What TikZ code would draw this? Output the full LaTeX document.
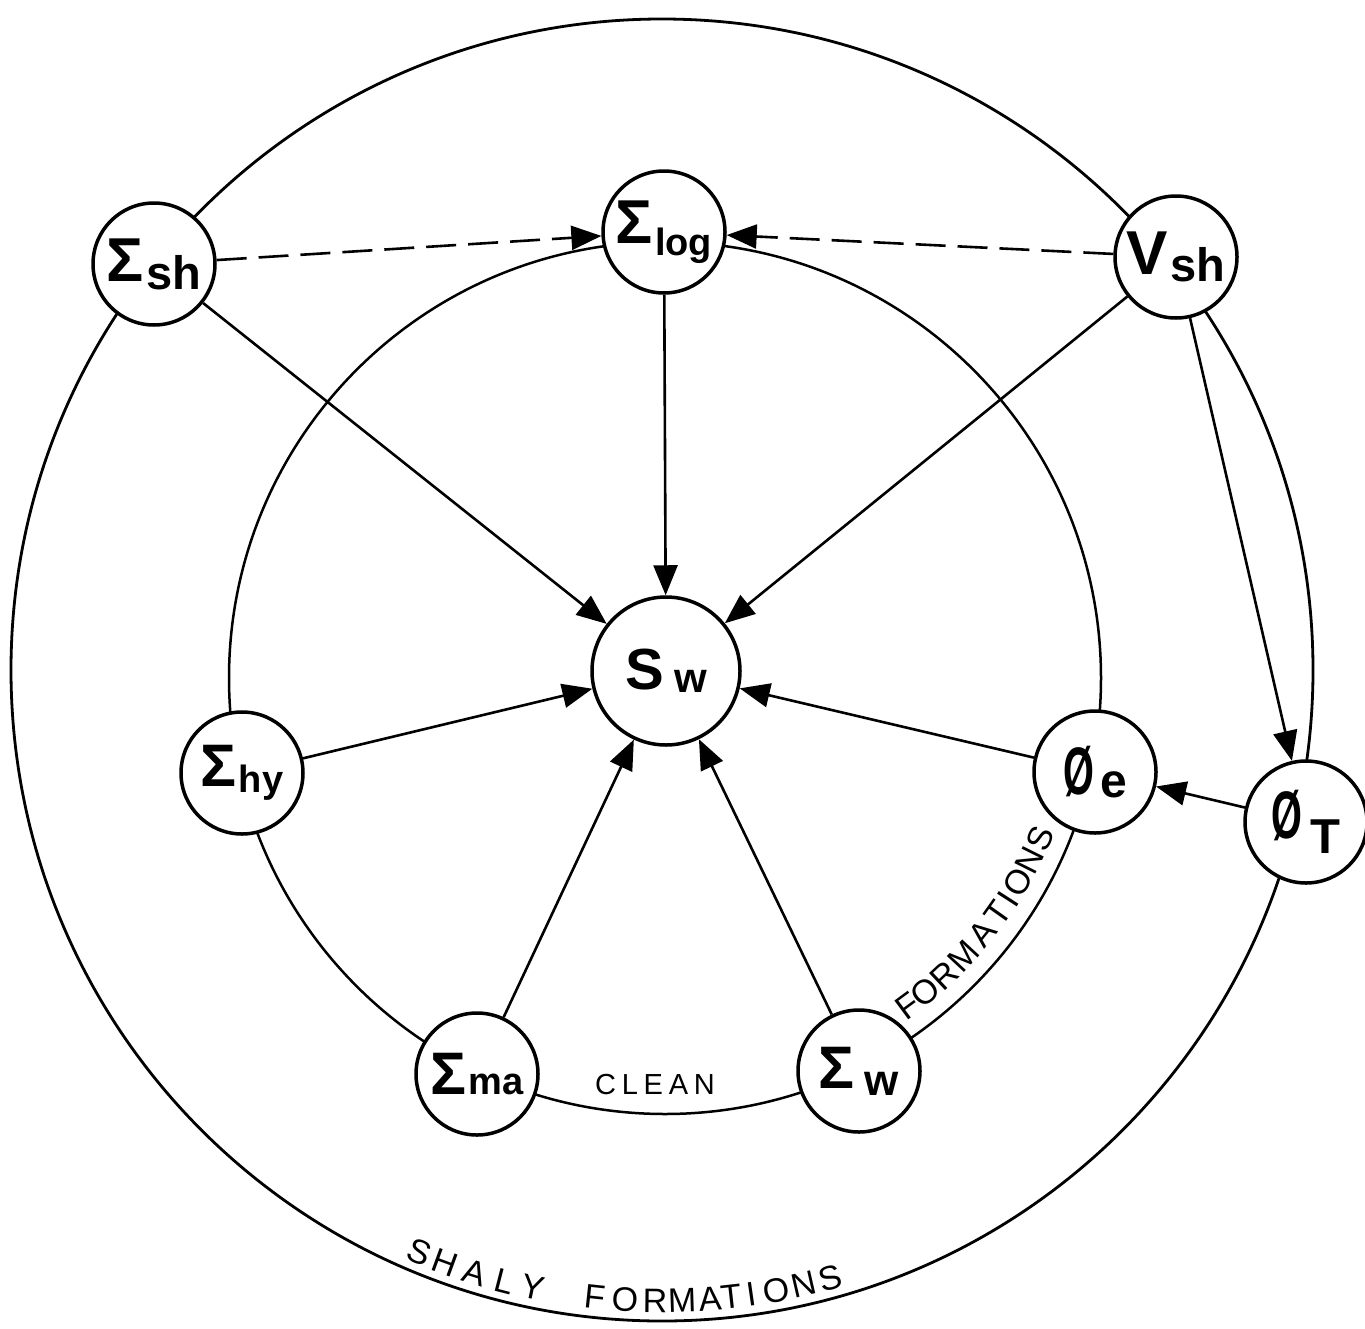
\documentclass[tikz,border=0pt]{standalone}
\usepackage{fontspec}
\usepackage{graphicx}
\setmainfont{Liberation Sans}
\usetikzlibrary{arrows.meta}
\newcommand\nlab[6]{{\bfseries\fontsize{#3}{#3}\selectfont #1}\hspace{#6}\raisebox{#5}{\bfseries\fontsize{#4}{#4}\selectfont #2}}
\newcommand\phisym[1]{{\bfseries\fontsize{#1}{#1}\selectfont\scalebox{0.62}[1.05]{Ø}}}
\begin{document}
\begin{tikzpicture}[x=1pt,y=-1pt,
  nd/.style={circle,draw,line width=3.5pt,fill=white,minimum size=122pt,inner sep=0pt},
  ar/.style={line width=2.6pt,-{Triangle[length=30pt,width=24pt]}},
  dsh/.style={ar,dash pattern=on 30pt off 12pt},
  ring/.style={line width=2.8pt},
  lett/.style={inner sep=0pt}]
\useasboundingbox (0,0) rectangle (1365,1328);
% rings
\draw[ring] (662,670) circle[radius=651pt];
\draw[ring,line width=2.5pt] (665,678) circle[radius=436pt];
% nodes
\node[nd] (sh) at (154,264) {\nlab{Σ}{sh}{62}{47}{-8pt}{3pt}};
\node[nd] (log) at (664,232) {\nlab{Σ}{log}{62}{38}{-12pt}{2pt}};
\node[nd] (vsh) at (1176,257) {\nlab{V}{sh}{62}{47}{-7pt}{2pt}};
\node[nd] (phiT) at (1306,822) {\phisym{64}\hspace{8pt}\raisebox{-15pt}{\bfseries\fontsize{49}{49}\selectfont T}};
\node[nd] (phie) at (1095,772) {\phisym{64}\hspace{6pt}\raisebox{-3pt}{\bfseries\fontsize{48}{48}\selectfont e}};
\node[nd] (hy) at (242,773) {\nlab{Σ}{hy}{60}{38}{-6pt}{2pt}};
\node[nd] (ma) at (477,1074) {\nlab{Σ}{ma}{60}{38}{0pt}{2pt}};
\node[nd] (w) at (859,1071) {\nlab{Σ}{w}{60}{44}{-7pt}{10pt}};
\node[nd,minimum size=148pt] (Sw) at (666,671) {\nlab{S}{w}{58}{42}{-3pt}{10pt}};
% connectors
\draw[dsh] (sh) -- (log);
\draw[dsh] (vsh) -- (log);
\draw[ar] (sh) -- (Sw);
\draw[ar] (log) -- (Sw);
\draw[ar] (vsh) -- (Sw);
\draw[ar] (hy) -- (Sw);
\draw[ar] (ma) -- (Sw);
\draw[ar] (w) -- (Sw);
\draw[ar] (phie) -- (Sw);
\draw[ar] (vsh) -- (phiT);
\draw[ar] (phiT) -- (phie);
% labels
\node[lett] (clean) at (655,1085) {\fontsize{29}{29}\selectfont\addfontfeature{LetterSpace=20}CLEAN};
\foreach \c/\a [count=\i] in {F/53.5,O/50.3,R/46.8,M/42.9,A/38.8,T/35.3,I/32.8,O/30.0,N/26.6,S/23.2}
  \node[lett,font=\fontsize{34}{34}\selectfont,rotate=90-\a] (fi\i) at ({665+408*cos(\a)},{678+408*sin(\a)}) {\c};
\foreach \c/\a [count=\i] in {S/112.65,H/110.12,A/107.24,L/104.41,Y/101.80,F/96.10,O/93.36,R/90.64,M/88.18,A/85.64,T/83.63,I/81.80,O/79.59,N/76.99,S/74.56}
  \node[lett,font=\fontsize{34}{34}\selectfont,rotate=90-\a] (so\i) at ({662+631*cos(\a)},{670+631*sin(\a)}) {\c};
\end{tikzpicture}
\end{document}
